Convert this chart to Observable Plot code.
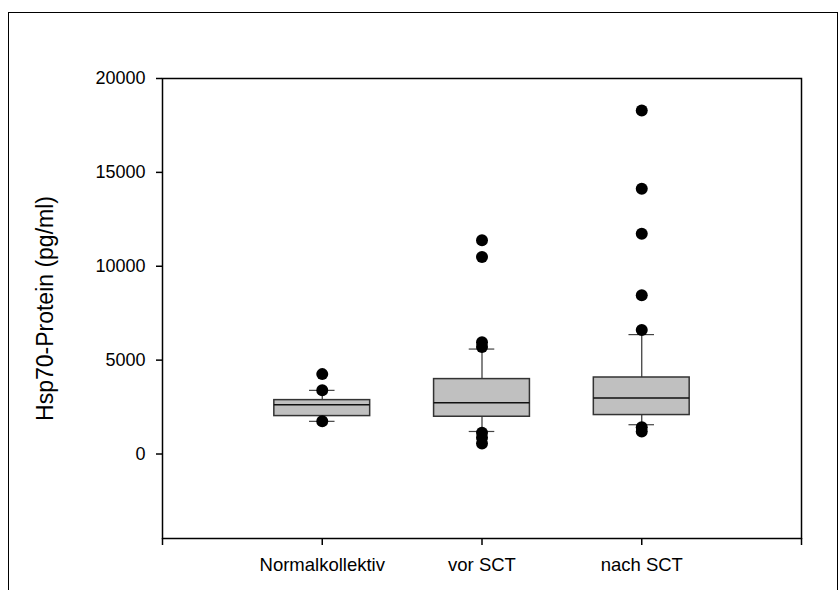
<!DOCTYPE html>
<html>
<head>
<meta charset="utf-8">
<script src="https://cdn.jsdelivr.net/npm/d3@7"></script>
<script src="https://cdn.jsdelivr.net/npm/@observablehq/plot@0.6"></script>
<style>
  html, body { margin: 0; padding: 0; background: #fff; }
  #wrap { position: relative; width: 839px; height: 590px; overflow: hidden; }
  #border { position: absolute; left: 8px; top: 12px; width: 828px; height: 600px;
            border-top: 1.5px solid #000; border-left: 1.5px solid #000; border-right: 1.5px solid #000; }
  #chart { position: absolute; left: 0; top: 0; }
</style>
</head>
<body>
<div id="wrap"><div id="border"></div><div id="chart"></div></div>
<script>
// Categories and their positions on the x axis
const categories = ["Normalkollektiv", "vor SCT", "nach SCT"];
const positions = [1, 2, 3];
const axisTicks = [0, 1, 2, 3, 4];
const yTicks = [0, 5000, 10000, 15000, 20000];

// Box summary statistics (pg/ml)
const q1 = [2020, 1985, 2075];
const median = [2620, 2730, 2980];
const q3 = [2870, 3990, 4075];
const whiskerLow = [1740, 1200, 1560];
const whiskerHigh = [3390, 5590, 6360];

// Outliers per group
const outliersNormal = [4255, 3400, 1750];
const outliersVor = [11380, 10490, 5950, 5700, 1130, 870, 560];
const outliersNach = [18300, 14130, 11730, 8460, 6610, 1420, 1200];

const yLabel = "Hsp70-Protein (pg/ml)";

const boxHalf = 0.3;
const capHalf = 0.08;

const boxes = categories.map((c, i) => ({
  cat: c, x: positions[i], q1: q1[i], median: median[i], q3: q3[i],
  lo: whiskerLow[i], hi: whiskerHigh[i]
}));
const outlierLists = [outliersNormal, outliersVor, outliersNach];
const points = outlierLists.flatMap((arr, i) => arr.map(v => ({x: positions[i], y: v})));

const plot = Plot.plot({
  width: 839,
  height: 590,
  marginLeft: 162,
  marginRight: 38,
  marginTop: 78,
  marginBottom: 52,
  style: {fontFamily: "'Liberation Sans', Arial, sans-serif", fontSize: "18px", color: "#000", background: "transparent"},
  x: {type: "linear", domain: [0, 4]},
  y: {type: "linear", domain: [-4500, 20000]},
  marks: [
    // whiskers
    Plot.ruleX(boxes, {x: "x", y1: "q3", y2: "hi", stroke: "#333", strokeWidth: 1.2}),
    Plot.ruleX(boxes, {x: "x", y1: "lo", y2: "q1", stroke: "#333", strokeWidth: 1.2}),
    // caps
    Plot.ruleY(boxes, {y: "hi", x1: d => d.x - capHalf, x2: d => d.x + capHalf, stroke: "#444", strokeWidth: 1.2}),
    Plot.ruleY(boxes, {y: "lo", x1: d => d.x - capHalf, x2: d => d.x + capHalf, stroke: "#444", strokeWidth: 1.2}),
    // boxes
    Plot.rect(boxes, {x1: d => d.x - boxHalf, x2: d => d.x + boxHalf, y1: "q1", y2: "q3", fill: "#c0c0c0", stroke: "#333", strokeWidth: 1.5}),
    // medians
    Plot.ruleY(boxes, {y: "median", x1: d => d.x - boxHalf, x2: d => d.x + boxHalf, stroke: "#111", strokeWidth: 1.5}),
    // outliers
    Plot.dot(points, {x: "x", y: "y", r: 6, fill: "#000", stroke: "none"}),
    // frame
    Plot.frame({stroke: "#000", strokeWidth: 1.5}),
    // axes
    Plot.axisX({ticks: axisTicks, tickFormat: d => (d >= 1 && d <= 3 ? categories[d - 1] : ""),
      tickSize: 7, tickPadding: 12, strokeWidth: 1.5, label: null, fontSize: 18.5}),
    Plot.axisY({ticks: yTicks, tickFormat: d => String(d), tickSize: 6, tickPadding: 11,
      strokeWidth: 1.5, label: null, fontSize: 18}),
    Plot.text([yLabel], {frameAnchor: "left", textAnchor: "middle", lineAnchor: "middle", rotate: -90, dx: -117, fontSize: 23, fill: "#000"})
  ]
});
document.getElementById("chart").appendChild(plot);
</script>
</body>
</html>
